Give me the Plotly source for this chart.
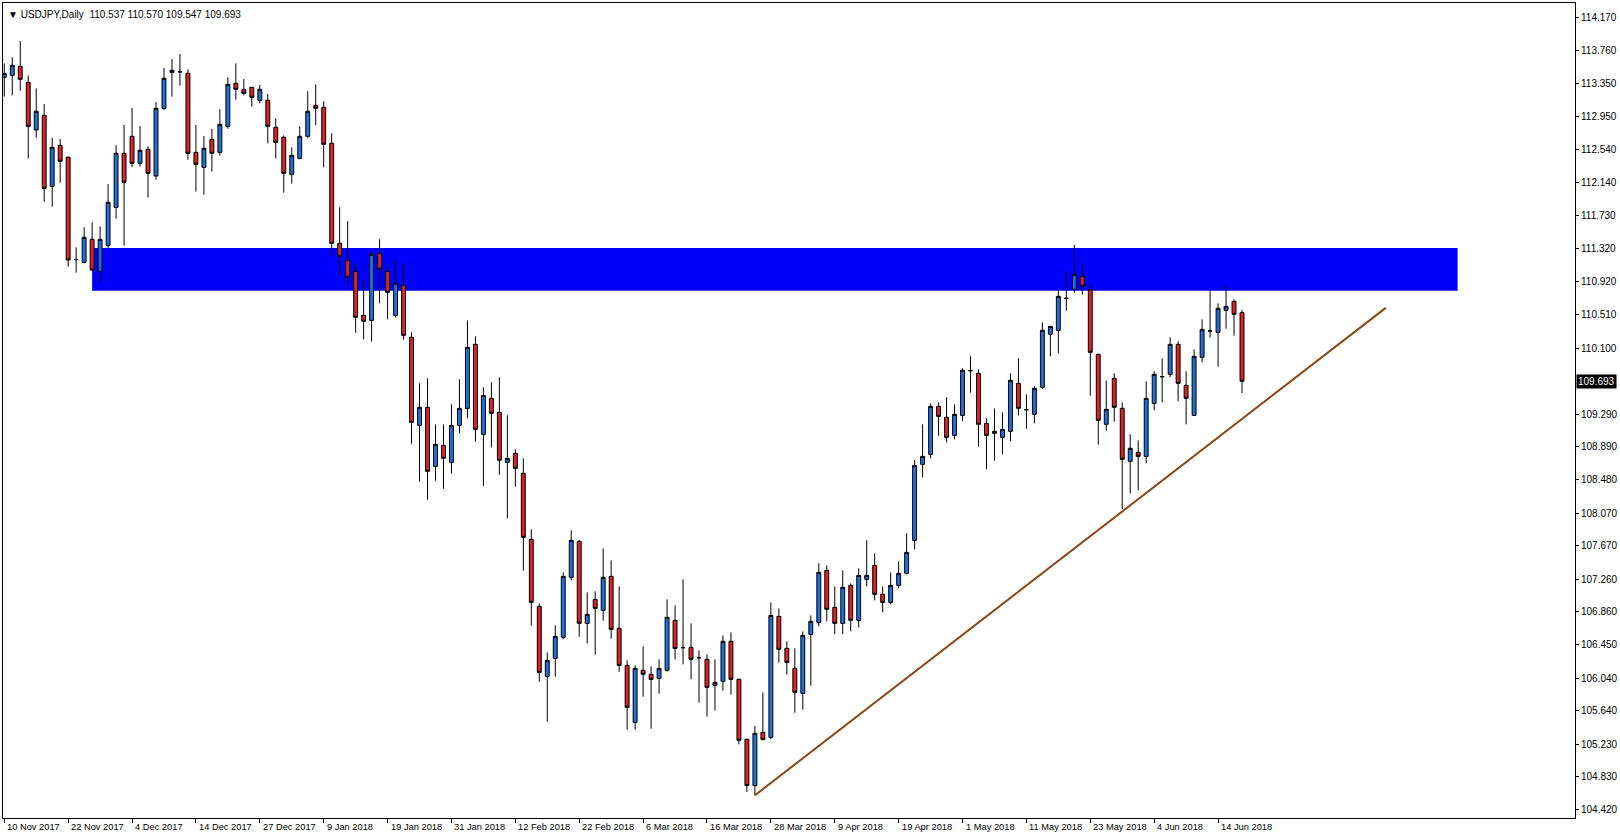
import plotly.graph_objects as go

# ---------------- data ----------------
bar_index = list(range(156))

opens = [113.431, 113.455, 113.566, 113.369, 112.783, 112.963, 112.090, 112.594, 112.447, 111.188,
         111.155, 111.438, 111.045, 111.364, 111.832, 112.496, 112.705, 112.373, 112.545, 112.217,
         113.046, 113.492, 113.496, 113.480, 112.508, 112.324, 112.668, 112.508, 112.828, 113.357,
         113.283, 113.308, 113.148, 113.148, 112.816, 112.693, 112.238, 112.434, 112.705, 113.086,
         113.062, 112.619, 111.389, 111.180, 111.045, 110.503, 110.442, 111.266, 111.045, 110.503,
         110.872, 110.233, 109.150, 109.372, 108.646, 108.904, 108.695, 109.150, 109.359, 110.147,
         109.040, 109.482, 109.310, 108.695, 108.806, 108.560, 107.748, 106.924, 106.063, 106.284,
         106.543, 107.281, 107.724, 106.715, 107.010, 106.875, 107.293, 106.654, 106.198, 105.497,
         106.137, 106.088, 106.039, 106.137, 106.752, 106.416, 106.420, 106.293, 106.272, 105.952,
         106.002, 106.494, 106.026, 105.288, 104.720, 105.374, 105.313, 106.801, 106.408, 106.161,
         105.854, 106.580, 106.727, 107.367, 106.912, 106.715, 107.182, 106.752, 107.256, 107.428,
         107.072, 106.973, 107.182, 107.330, 107.736, 108.671, 108.794, 109.384, 109.249, 109.027,
         109.273, 109.823, 109.790, 109.175, 109.077, 109.003, 109.077, 109.667, 109.343, 109.286,
         109.618, 110.270, 110.319, 110.712, 110.823, 110.983, 110.819, 110.024, 109.163, 109.729,
         109.360, 108.708, 108.818, 108.769, 109.421, 109.749, 109.778, 110.147, 109.642, 109.273,
         109.987, 110.311, 110.294, 110.565, 110.676, 110.537]

highs = [113.603, 113.677, 113.878, 113.455, 113.296, 113.103, 112.685, 112.672, 112.459, 111.340,
         111.586, 111.647, 111.598, 112.119, 112.595, 112.845, 113.054, 112.832, 112.582, 113.128,
         113.546, 113.656, 113.718, 113.529, 112.845, 112.709, 112.795, 113.037, 113.431, 113.603,
         113.410, 113.308, 113.337, 113.226, 112.926, 112.717, 112.570, 112.828, 113.259, 113.345,
         113.136, 112.742, 111.832, 111.660, 111.143, 110.946, 111.303, 111.438, 111.094, 111.184,
         111.143, 110.294, 109.667, 109.728, 109.163, 109.163, 109.409, 109.716, 110.442, 110.245,
         109.618, 109.679, 109.741, 109.273, 108.855, 108.744, 107.871, 106.961, 106.358, 106.690,
         107.342, 107.859, 107.740, 107.096, 107.109, 107.637, 107.490, 107.170, 106.260, 106.198,
         106.432, 106.186, 106.272, 107.010, 106.936, 107.256, 106.715, 106.383, 106.334, 106.272,
         106.567, 106.604, 106.038, 105.300, 105.452, 105.866, 106.973, 106.899, 106.494, 106.408,
         106.617, 106.813, 107.453, 107.428, 107.170, 107.367, 107.207, 107.391, 107.736, 107.576,
         107.170, 107.342, 107.478, 107.822, 108.724, 109.163, 109.421, 109.433, 109.495, 109.409,
         109.851, 110.000, 109.839, 109.236, 109.359, 109.310, 109.790, 109.975, 109.532, 109.630,
         110.417, 110.370, 110.823, 111.045, 111.369, 111.143, 110.885, 110.030, 109.704, 109.790,
         109.433, 109.040, 108.966, 109.692, 109.815, 109.975, 110.233, 110.184, 109.815, 110.085,
         110.454, 110.811, 110.651, 110.872, 110.700, 110.570]

lows = [113.193, 113.209, 113.267, 112.434, 112.689, 111.901, 111.840, 112.135, 111.102, 111.028,
        111.143, 111.053, 110.897, 111.327, 111.692, 111.360, 112.324, 112.332, 111.951, 112.172,
        113.029, 113.193, 113.328, 112.418, 112.025, 111.988, 112.270, 112.467, 112.799, 113.156,
        113.209, 113.070, 113.111, 112.619, 112.434, 112.012, 112.123, 112.422, 112.681, 112.840,
        112.324, 111.225, 111.008, 110.872, 110.290, 110.208, 110.180, 110.651, 110.454, 110.479,
        110.204, 108.925, 108.457, 108.236, 108.470, 108.371, 108.556, 109.052, 109.236, 108.949,
        108.404, 108.876, 108.543, 108.006, 108.396, 107.363, 106.686, 105.997, 105.505, 106.059,
        106.518, 107.244, 106.551, 106.465, 106.330, 106.748, 106.526, 106.120, 105.407, 105.407,
        105.813, 105.419, 105.850, 106.120, 106.272, 106.211, 106.026, 105.739, 105.567, 105.641,
        105.887, 105.838, 105.227, 104.640, 104.600, 105.276, 105.288, 106.231, 106.084, 105.616,
        105.653, 105.948, 106.678, 106.740, 106.580, 106.580, 106.617, 106.666, 107.170, 106.998,
        106.850, 106.949, 107.145, 107.318, 107.625, 108.511, 108.745, 109.023, 108.941, 108.978,
        109.200, 109.552, 108.888, 108.609, 108.716, 108.794, 108.954, 109.273, 109.109, 109.175,
        109.600, 110.000, 110.036, 110.561, 110.782, 110.758, 109.515, 108.913, 109.085, 109.196,
        108.120, 108.314, 108.351, 108.683, 109.335, 109.433, 109.741, 109.446, 109.163, 109.270,
        109.925, 110.229, 109.872, 110.339, 110.253, 109.547]

closes = [113.480, 113.578, 113.406, 112.828, 113.013, 112.065, 112.570, 112.398, 111.184, 111.190,
          111.463, 111.061, 111.438, 111.893, 112.496, 112.139, 112.373, 112.533, 112.250, 113.050,
          113.419, 113.517, 113.500, 112.496, 112.361, 112.558, 112.496, 112.853, 113.345, 113.283,
          113.234, 113.185, 113.283, 112.828, 112.631, 112.250, 112.471, 112.705, 113.013, 113.050,
          112.607, 111.389, 111.229, 110.971, 110.479, 110.430, 111.254, 111.069, 110.786, 110.897,
          110.257, 109.187, 109.372, 108.585, 108.917, 108.745, 109.150, 109.359, 110.110, 109.101,
          109.519, 109.298, 108.720, 108.744, 108.621, 107.773, 106.973, 106.112, 106.260, 106.555,
          107.293, 107.736, 106.715, 106.826, 106.899, 107.281, 106.641, 106.198, 105.682, 106.161,
          106.088, 106.026, 106.161, 106.789, 106.407, 106.416, 106.272, 106.293, 105.928, 105.989,
          106.494, 106.026, 105.276, 104.720, 105.362, 105.288, 106.813, 106.395, 106.235, 105.866,
          106.567, 106.740, 107.342, 106.887, 106.715, 107.158, 106.752, 107.305, 107.305, 107.072,
          106.973, 107.182, 107.330, 107.588, 108.658, 108.769, 109.384, 109.261, 109.003, 109.286,
          109.827, 109.823, 109.163, 109.027, 109.052, 109.101, 109.704, 109.360, 109.343, 109.606,
          110.319, 110.368, 110.737, 110.712, 111.008, 110.860, 110.048, 109.212, 109.347, 109.372,
          108.732, 108.868, 108.769, 109.482, 109.778, 109.749, 110.147, 109.667, 109.482, 109.999,
          110.331, 110.311, 110.590, 110.614, 110.516, 109.693]

date_tick_bars = [0, 8, 16, 24, 32, 40, 48, 56, 64, 72, 80, 88, 96, 104, 112, 120, 128, 136, 144, 152]
date_tick_labels = ["10 Nov 2017", "22 Nov 2017", "4 Dec 2017", "14 Dec 2017", "27 Dec 2017",
                    "9 Jan 2018", "19 Jan 2018", "31 Jan 2018", "12 Feb 2018", "22 Feb 2018",
                    "6 Mar 2018", "16 Mar 2018", "28 Mar 2018", "9 Apr 2018", "19 Apr 2018",
                    "1 May 2018", "11 May 2018", "23 May 2018", "4 Jun 2018", "14 Jun 2018"]

price_ticks = [114.170, 113.760, 113.350, 112.950, 112.540, 112.140, 111.730, 111.320, 110.920,
               110.510, 110.100, 109.290, 108.890, 108.480, 108.070, 107.670, 107.260, 106.860,
               106.450, 106.040, 105.640, 105.230, 104.830, 104.420]

symbol_title = "USDJPY,Daily"
last_ohlc = [110.537, 110.570, 109.547, 109.693]

zone_low, zone_high = 110.807, 111.332
zone_start_bar, zone_end_bar = 11, 182
trend_start_bar, trend_start_price = 94, 104.600
trend_end_bar, trend_end_price = 173, 110.595

# ---------------- styling ----------------
BULL = "#1F6FDB"
BEAR = "#DC2227"
FONT = "Liberation Sans, Arial, sans-serif"

fig = go.Figure()
fig.add_trace(go.Candlestick(
    x=bar_index, open=opens, high=highs, low=lows, close=closes,
    increasing=dict(fillcolor=BULL, line=dict(color="black", width=1)),
    decreasing=dict(fillcolor=BEAR, line=dict(color="black", width=1)),
    whiskerwidth=0, hoverinfo="skip", showlegend=False,
))

fig.add_shape(type="rect", xref="x", yref="y",
              x0=zone_start_bar, x1=zone_end_bar, y0=zone_low, y1=zone_high,
              fillcolor="#0000FF", line=dict(width=0), layer="below")
fig.add_shape(type="line", xref="x", yref="y",
              x0=trend_start_bar, y0=trend_start_price, x1=trend_end_bar, y1=trend_end_price,
              line=dict(color="#8B4513", width=2), layer="above")

annotations = []
for b, lab in zip(date_tick_bars, date_tick_labels):
    annotations.append(dict(x=b, y=0, xref="x", yref="paper", text=lab, showarrow=False,
                            xanchor="left", yanchor="top", xshift=1, yshift=-2,
                            font=dict(family=FONT, size=9.3, color="black")))
annotations.append(dict(x=1, y=last_ohlc[3], xref="paper", yref="y",
                        text=f"{last_ohlc[3]:.3f}", showarrow=False, xanchor="left",
                        yanchor="middle", xshift=1, bgcolor="black", borderpad=1,
                        font=dict(family=FONT, size=10, color="white")))
annotations.append(dict(x=0, y=1, xref="paper", yref="paper",
                        text="\u25BC " + symbol_title + "  " + " ".join(f"{v:.3f}" for v in last_ohlc),
                        showarrow=False, xanchor="left", yanchor="top", xshift=3, yshift=-4,
                        bgcolor="white", font=dict(family=FONT, size=10, color="black")))

fig.update_layout(
    width=1620, height=836,
    margin=dict(l=2, r=43, t=3, b=18),
    paper_bgcolor="white", plot_bgcolor="white",
    showlegend=False, boxgap=0.3,
    annotations=annotations,
    xaxis=dict(range=[-0.16, 196.7], showgrid=False, zeroline=False,
               showline=True, linecolor="black", linewidth=1, mirror=True,
               ticks="outside", ticklen=4, tickcolor="black",
               tickvals=date_tick_bars, showticklabels=False,
               rangeslider=dict(visible=False), fixedrange=True),
    yaxis=dict(range=[104.321, 114.345], side="right", showgrid=False, zeroline=False,
               showline=True, linecolor="black", linewidth=1, mirror=True,
               ticks="outside", ticklen=3, tickcolor="black",
               tickvals=price_ticks, ticktext=[f"{v:.3f}" for v in price_ticks],
               tickfont=dict(family=FONT, size=10, color="black"), fixedrange=True),
)

fig.write_html("out.html", config={"displayModeBar": False},
               post_script="document.body.style.margin='0';document.body.style.overflow='hidden';")
